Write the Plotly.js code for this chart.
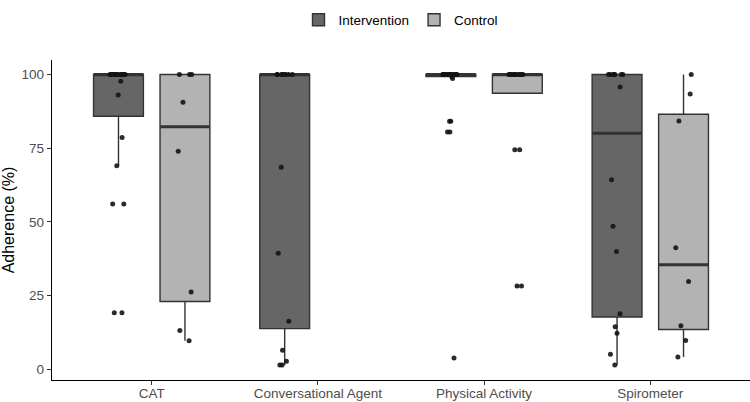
<!DOCTYPE html>
<html>
<head>
<meta charset="utf-8">
<script src="https://cdn.plot.ly/plotly-3.0.1.min.js"></script>
<style>html,body{margin:0;padding:0;background:#fff;}#chart{width:750px;height:402px;}</style>
</head>
<body>
<div id="chart"></div>
<script>
// ---- data ----
const categories = ["CAT", "Conversational Agent", "Physical Activity", "Spirometer"];
const groupNames = ["Intervention", "Control"];

// Intervention adherence (%) per category
const interventionCAT = [19.1, 19.1, 56, 56, 69, 78.6, 93, 97.7,
  100, 100, 100, 100, 100, 100, 100, 100, 100, 100, 100, 100, 100, 100, 100];
const interventionCA = [1.4, 1.4, 2.7, 6.4, 16.2, 39.3, 68.5,
  100, 100, 100, 100, 100, 100, 100, 100, 100];
const interventionPA = [3.8, 80.5, 80.5, 84.1, 84.1, 98.6, 99.3,
  100, 100, 100, 100, 100, 100, 100, 100, 100, 100, 100, 100, 100, 100, 100, 100, 100, 100];
const interventionSP = [1.4, 5.0, 12.2, 14.4, 18.8, 39.9, 48.5, 64.3, 95.7,
  100, 100, 100, 100, 100, 100, 100];

// Control adherence (%) per category (no Conversational Agent in control)
const controlCAT = [9.6, 13.1, 26.2, 73.9, 90.6, 100, 100, 100];
const controlPA = [28.2, 28.2, 74.4, 74.4, 100, 100, 100, 100, 100, 100, 100, 100, 100, 100, 100, 100];
const controlSP = [4.1, 9.7, 14.7, 29.7, 41.2, 84.2, 93.4, 100];

const yTicks = [0, 25, 50, 75, 100];

// ---- helpers: ggplot-style (R type 7) box statistics ----
function stats(vals) {
  const s = vals.slice().sort((a, b) => a - b);
  const n = s.length;
  const q = p => { const h = (n - 1) * p, lo = Math.floor(h), hi = Math.min(lo + 1, n - 1); return s[lo] + (h - lo) * (s[hi] - s[lo]); };
  const q1 = q(0.25), med = q(0.5), q3 = q(0.75), iqr = q3 - q1;
  const lowIn = s.filter(v => v >= q1 - 1.5 * iqr), upIn = s.filter(v => v <= q3 + 1.5 * iqr);
  let lf = Math.min(...lowIn), uf = Math.max(...upIn);
  lf = Math.min(lf, q1); uf = Math.max(uf, q3);
  return {q1, med, q3, lf, uf};
}

const groups = [
  {name: "Intervention", og: "int", fill: "#666666", cats: categories, data: [interventionCAT, interventionCA, interventionPA, interventionSP]},
  {name: "Control", og: "ctl", fill: "#B3B3B3", cats: [categories[0], categories[2], categories[3]], data: [controlCAT, controlPA, controlSP]}
];

const traces = [];
const lineCol = "#333333";
groups.forEach(g => {
  const st = g.data.map(stats);
  traces.push({
    type: "box", name: g.name, offsetgroup: g.og, x: g.cats,
    q1: st.map(s => s.q1), median: st.map(s => s.med), q3: st.map(s => s.q3),
    lowerfence: st.map(s => s.lf), upperfence: st.map(s => s.uf),
    fillcolor: g.fill, line: {color: lineCol, width: 1.4}, whiskerwidth: 0,
    boxpoints: false, hoverinfo: "skip"
  });
});
// thick median lines
groups.forEach(g => {
  const st = g.data.map(stats);
  const m = st.map(s => s.med);
  traces.push({
    type: "box", name: g.name + " median", offsetgroup: g.og, x: g.cats,
    q1: m, median: m, q3: m, lowerfence: m, upperfence: m,
    fillcolor: "rgba(0,0,0,0)", line: {color: lineCol, width: 3}, whiskerwidth: 0,
    boxpoints: false, showlegend: false, hoverinfo: "skip"
  });
});
// jittered points: the dense cluster at 100 % and the remaining points get separate jitter amounts
function pointTrace(g, keep, jit) {
  const xs = [], ys = [];
  g.data.forEach((arr, i) => arr.forEach(v => { if (keep(v)) { xs.push(g.cats[i]); ys.push(v); } }));
  return {
    type: "box", name: g.name + " points", offsetgroup: g.og, x: xs, y: ys,
    boxpoints: "all", jitter: jit, pointpos: 0,
    marker: {color: "rgba(20,20,20,0.9)", size: 5},
    fillcolor: "rgba(0,0,0,0)", line: {color: "rgba(0,0,0,0)", width: 0}, whiskerwidth: 0,
    showlegend: false, hoverinfo: "y"
  };
}
groups.forEach(g => {
  traces.push(pointTrace(g, v => v >= 100, 0.35));
  traces.push(pointTrace(g, v => v < 100, 0.32));
});

const layout = {
  width: 750, height: 402,
  margin: {l: 52, r: 0, t: 60, b: 22},
  paper_bgcolor: "#ffffff", plot_bgcolor: "#ffffff",
  font: {family: "Liberation Sans, Arial, sans-serif", color: "#000"},
  boxmode: "group", boxgap: 0.2, boxgroupgap: 0.25,
  showlegend: true,
  legend: {orientation: "h", x: 0.5, xanchor: "center", y: 1.125, yanchor: "middle",
    font: {size: 13.5, color: "#000"}, bgcolor: "rgba(0,0,0,0)", traceorder: "normal"},
  xaxis: {
    type: "category", categoryorder: "array", categoryarray: categories,
    range: [-0.6, 3.6], showgrid: false, zeroline: false,
    showline: true, linecolor: "#000", linewidth: 1.3,
    ticks: "outside", ticklen: 4, tickcolor: "#333", tickwidth: 1,
    ticklabelstandoff: -4,
    tickfont: {size: 13.5, color: "#4D4D4D"}
  },
  yaxis: {
    range: [-3.7, 104.9], tickvals: yTicks, ticktext: yTicks.map(String),
    showgrid: false, zeroline: false,
    showline: true, linecolor: "#000", linewidth: 1.3,
    ticks: "outside", ticklen: 4, tickcolor: "#333", tickwidth: 1,
    tickfont: {size: 13.5, color: "#4D4D4D"},
    title: {text: "Adherence (%)", font: {size: 16, color: "#000"}, standoff: 6}
  }
};

Plotly.newPlot("chart", traces, layout, {displayModeBar: false, staticPlot: true});
</script>
</body>
</html>
